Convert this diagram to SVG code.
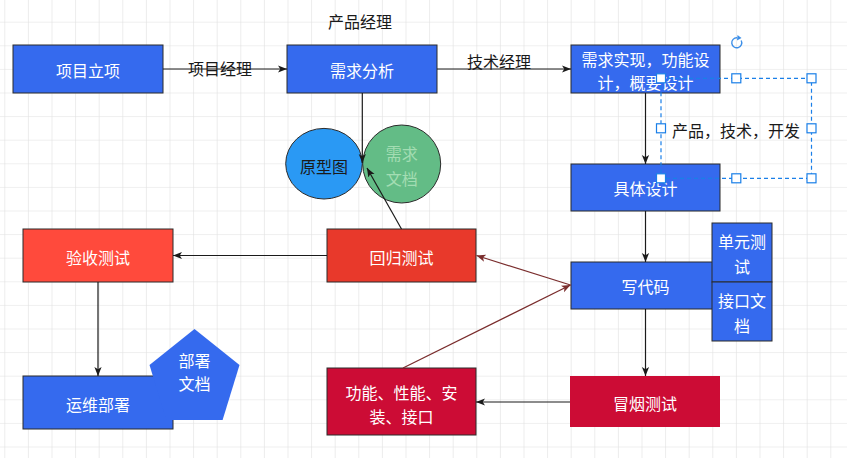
<svg xmlns="http://www.w3.org/2000/svg" width="847" height="458" viewBox="0 0 847 458">
<style>
text{font-family:"Noto Sans CJK SC","Liberation Sans",sans-serif;font-size:16px;text-anchor:middle;dominant-baseline:central}
.w{fill:#ffffff}
.k{fill:#1a1a1a}
.box{stroke:#2b2b2b;stroke-width:1}
.blue{fill:#356AEE}
.ln{fill:none;stroke:#1a1a1a;stroke-width:1.2}
.lr{fill:none;stroke:#7a2d2d;stroke-width:1.2}
.sel{fill:none;stroke:#1a7fe8;stroke-width:1.2;stroke-dasharray:4 3}
.h{fill:#ffffff;stroke:#1a7fe8;stroke-width:1.2}
</style>
<defs>
<pattern id="grid" width="23.6" height="23.6" patternUnits="userSpaceOnUse" x="4.3" y="-1.9">
<path d="M0,0 H23.6 M0,0 V23.6" fill="none" stroke="#e0e0e0" stroke-width="1.2"/>
</pattern>
<marker id="ak" viewBox="0 0 10 10" refX="10" refY="5" markerWidth="9" markerHeight="9" markerUnits="userSpaceOnUse" orient="auto">
<path d="M0,1 L10,5 L0,9 L2.5,5 z" fill="#1a1a1a"/>
</marker>
<marker id="ar" viewBox="0 0 10 10" refX="10" refY="5" markerWidth="9" markerHeight="9" markerUnits="userSpaceOnUse" orient="auto">
<path d="M0,1 L10,5 L0,9 L2.5,5 z" fill="#7a2d2d"/>
</marker>
</defs>
<rect width="847" height="458" fill="#ffffff"/>
<rect width="847" height="458" fill="url(#grid)"/>

<g id="n-xiangmulixiang">
<rect class="box blue" x="13" y="45" width="150" height="48"/>
<text class="w" x="88" y="70">项目立项</text>
</g>
<g id="n-xuqiufenxi">
<rect class="box blue" x="287" y="45" width="150" height="48"/>
<text class="w" x="362" y="70">需求分析</text>
</g>
<g id="n-xuqiushixian">
<rect class="box blue" x="571" y="45" width="149" height="48"/>
<text class="w" x="645.5" y="59">需求实现，功能设</text>
<text class="w" x="645.5" y="82">计，概要设计</text>
</g>
<g id="n-jutisheji">
<rect class="box blue" x="571" y="164" width="149" height="47"/>
<text class="w" x="645.5" y="188">具体设计</text>
</g>
<g id="n-xiedaima">
<rect class="box blue" x="571" y="262" width="149" height="47"/>
<text class="w" x="645.5" y="286">写代码</text>
</g>
<g id="n-danyuanceshi">
<rect class="box blue" x="712" y="223" width="60" height="59"/>
<text class="w" x="742" y="241">单元测</text>
<text class="w" x="742" y="266">试</text>
</g>
<g id="n-jiekouwendang">
<rect class="box blue" x="712" y="282" width="60" height="59"/>
<text class="w" x="742" y="300">接口文</text>
<text class="w" x="742" y="325">档</text>
</g>
<g id="n-maoyanceshi">
<rect x="570" y="376" width="150" height="51" fill="#CC0C35"/>
<text class="w" x="645" y="403">冒烟测试</text>
</g>
<g id="n-gongnengxingneng">
<rect class="box" x="327" y="368" width="149" height="67" fill="#CC0C35"/>
<text class="w" x="401.5" y="392">功能、性能、安</text>
<text class="w" x="401.5" y="416">装、接口</text>
</g>
<g id="n-huiguiceshi">
<rect class="box" x="327" y="229" width="149" height="53" fill="#E8392B"/>
<text class="w" x="401.5" y="257">回归测试</text>
</g>
<g id="n-yanshouceshi">
<rect class="box" x="23" y="229" width="150" height="53" fill="#FF4A3C"/>
<text class="w" x="98" y="257">验收测试</text>
</g>
<g id="n-yunweibushu">
<rect class="box blue" x="23" y="376" width="150" height="53"/>
<text class="w" x="98" y="404">运维部署</text>
</g>
<g id="n-bushuwendang">
<polygon points="194.5,329 239.5,365 222.6,420 166.4,420 149.5,365" fill="#356AEE"/>
<text class="w" x="194.5" y="359.5">部署</text>
<text class="w" x="194.5" y="382.5">文档</text>
</g>
<g id="n-yuanxingtu">
<ellipse class="box" cx="324" cy="163.7" rx="38.3" ry="35.3" fill="#2A99F4"/>
<text class="k" x="324" y="166">原型图</text>
</g>
<g id="n-xuqiuwendang">
<circle class="box" cx="401.7" cy="164" r="39" fill="#63BC86"/>
<text x="401.7" y="153" fill="#A3DDB3">需求</text>
<text x="401.7" y="178" fill="#A3DDB3">文档</text>
</g>

<g id="connectors">
<line class="ln" x1="163" y1="69" x2="287" y2="69" marker-end="url(#ak)"/>
<line class="ln" x1="437" y1="69" x2="571" y2="69" marker-end="url(#ak)"/>
<line class="ln" x1="362.3" y1="93" x2="362.3" y2="163" marker-end="url(#ak)"/>
<line class="ln" x1="401.5" y1="229" x2="367" y2="168" marker-end="url(#ak)"/>
<line class="ln" x1="645.5" y1="93" x2="645.5" y2="164" marker-end="url(#ak)"/>
<line class="ln" x1="645.5" y1="211" x2="645.5" y2="262" marker-end="url(#ak)"/>
<line class="ln" x1="645.5" y1="309" x2="645.5" y2="376" marker-end="url(#ak)"/>
<line class="ln" x1="570" y1="402" x2="476" y2="402" marker-end="url(#ak)"/>
<line class="lr" x1="403" y1="368" x2="570.5" y2="285" marker-end="url(#ar)"/>
<line class="lr" x1="570.5" y1="285" x2="476.5" y2="255.5" marker-end="url(#ar)"/>
<line class="ln" x1="327" y1="255.5" x2="173" y2="255.5" marker-end="url(#ak)"/>
<line class="ln" x1="98" y1="282" x2="98" y2="376" marker-end="url(#ak)"/>
</g>

<g id="labels">
<text class="k" x="220" y="68">项目经理</text>
<text class="k" x="499" y="61">技术经理</text>
<text class="k" x="360" y="20.5">产品经理</text>
<text class="k" x="736" y="130">产品，技术，开发</text>
</g>

<g id="selection">
<rect class="sel" x="661" y="78.3" width="150.5" height="100"/>
<rect class="h" x="656.5" y="73.8" width="9" height="9"/>
<rect class="h" x="731.8" y="73.8" width="9" height="9"/>
<rect class="h" x="807" y="73.8" width="9" height="9"/>
<rect class="h" x="656.5" y="123.8" width="9" height="9"/>
<rect class="h" x="807" y="123.8" width="9" height="9"/>
<rect class="h" x="656.5" y="173.8" width="9" height="9"/>
<rect class="h" x="731.8" y="173.8" width="9" height="9"/>
<rect class="h" x="807" y="173.8" width="9" height="9"/>
<path d="M741.2,40.5 A5,5 0 1 1 737,37.8" fill="none" stroke="#3d8fe8" stroke-width="1.4"/>
<path d="M737.5,35 L741.5,38 L737,40.5 z" fill="#3d8fe8"/>
</g>
</svg>
